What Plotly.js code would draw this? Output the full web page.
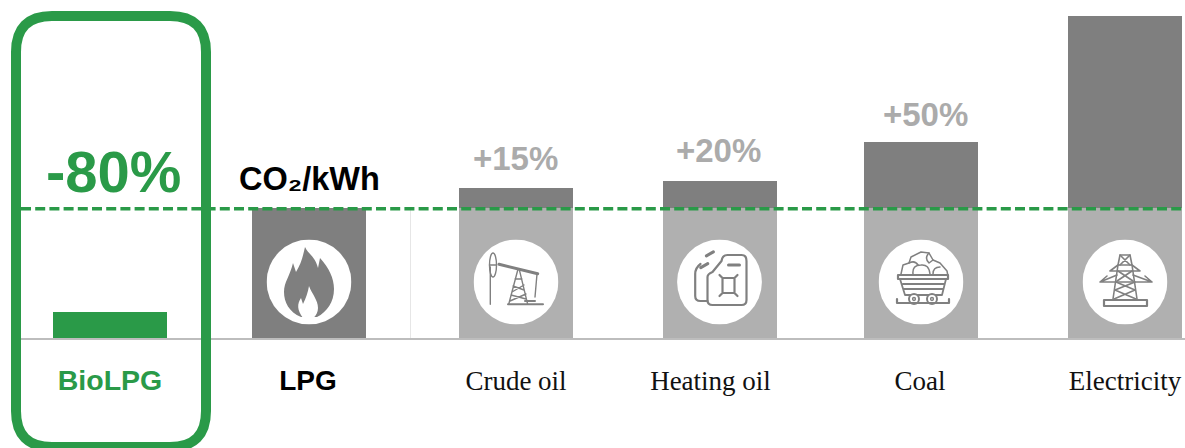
<!DOCTYPE html>
<html>
<head>
<meta charset="utf-8">
<script src="https://cdn.plot.ly/plotly-3.0.1.min.js"></script>
<style>html,body{margin:0;padding:0;background:#fff}#chart{width:1185px;height:448px}</style>
</head>
<body>
<div id="chart"></div>
<script>
// CO2 per kWh by energy source, indexed to LPG = 100
const categories = ['BioLPG', 'LPG', 'Crude oil', 'Heating oil', 'Coal', 'Electricity'];
const co2Index = [20, 100, 115, 120, 150, 247];
const lpgLevel = 100;
const changeLabels = ['+15%', '+20%', '+50%'];
const changeSources = ['Crude oil', 'Heating oil', 'Coal'];

// Layout constants
const W = 1185, H = 448, baseY = 338;
const barCenters = [110, 309, 516, 719.5, 921, 1125];
const labelCenters = [110, 308, 516, 710.5, 920, 1125];
const barWidth = 114;
const GREEN = '#2a9a48', DARK = '#7f7f7f', LIGHT = '#b0b0b0', SOFT = '#ababab';
const pxPerUnit = 1.305;

const paperY = py => (H - py) / H;
const paperX = px => px / W;

// Split each bar at the LPG level: the share above it is drawn darker
const lowerPart = co2Index.map(v => Math.min(v, lpgLevel));
const upperPart = co2Index.map(v => Math.max(v - lpgLevel, 0));
const lowerColors = categories.map(c => c === 'BioLPG' ? GREEN : c === 'LPG' ? DARK : LIGHT);

const traces = [
  {type: 'bar', x: barCenters, y: lowerPart, width: barWidth, marker: {color: lowerColors}, hoverinfo: 'skip'},
  {type: 'bar', x: barCenters, y: upperPart, width: barWidth, marker: {color: DARK}, hoverinfo: 'skip'},
  {type: 'scatter', mode: 'lines', x: [21, W], y: [lpgLevel - 1, lpgLevel - 1],
   line: {color: GREEN, width: 3.5, dash: '10px,4.2px'}, hoverinfo: 'skip'}
];

// Icon drawings, in coordinates centred on a white disc of radius 42.5
const S = 'fill="none" stroke="#808080" stroke-linejoin="round" stroke-linecap="round"';
const iconBodies = {
  'LPG': `<path fill="${DARK}" d="M-8 35C-20 30-25 20-25 10C-25 0-19-6-16-19L-13-10C-8-18-6-26-4-35C-1-28 6-26 9-14L11-24C20-14 25-4 25 7C25 20 18 30 8 35Z"/>
          <path fill="#fff" d="M-6 36C-12 28-12 22-8 16L-6 22C-3 16-1 10 0 4C3 12 9 18 9 26C9 30 7 34 4 36Z"/>`,
  'Crude oil': `<g ${S} stroke-width="1.4">
          <path d="M-25.7-15V22.3"/><ellipse cx="-23" cy="-17" rx="3.5" ry="12"/><path d="M-26.5-17H-19.5"/>
          <path stroke-width="3" d="M-17-17.7L21.7-8.3"/><path d="M21-8L19 15"/>
          <path d="M1.7-11.7L-7.3 22.3M3.5-11.7L11.7 22.3M-1-3L6-3M-3 4L8 8M8 3L-4 10M-5 13L10 17M10 12L-6 19"/>
          <path stroke-width="2" d="M-8 22.3H27M9 19H19"/></g>`,
  'Heating oil': `<g ${S} stroke-width="2.2">
          <path d="M-12 19H-19Q-24.3 19-24.3 14V-8Q-24.3-14-19-18"/>
          <path d="M-7-10L2-21Q3-27 8-27H22Q27-27 27-21V18Q27 23 22 23H-7Q-12 23-12 18V-5Q-12-8-7-10Z"/>
          <path stroke-width="3" d="M-22-24L-15-20M-9-25L-2-21" transform="rotate(-60 -12 -22)"/>
          <path d="M3-4H15V11H3ZM0-7L3-4M18-7L15-4M0 14L3 11M18 14L15 11"/>
          <path stroke-width="3" d="M9-17H20"/></g>`,
  'Coal': `<g ${S} stroke-width="1.5">
          <path d="M-20-8L-18-17L-12-19L-10-25L0-30L8-29L12-22L19-19L26-11L27-6"/>
          <path d="M-12-19Q-6-22-3-17M8-29Q3-24 8-19L12-22M-8-8Q-9-17 0-17Q8-18 9-8M12-8Q12-15 19-15"/>
          <path stroke-width="2.2" d="M-23-7H27V-3H-23Z"/>
          <path d="M-21-3L-16 13H21L25-3M-18 2H23M-17 7H22" stroke-width="1.8"/>
          <circle cx="-7" cy="17" r="5" fill="#fff" stroke-width="2"/><circle cx="11" cy="17" r="5" fill="#fff" stroke-width="2"/>
          <circle cx="-7" cy="17" r="1.4"/><circle cx="11" cy="17" r="1.4"/>
          <path stroke-width="2.2" d="M-24 21H28M-24 17V21M28 17V21"/></g>`,
  'Electricity': `<g ${S} stroke-width="1.6">
          <path d="M-5-27H5L7-17H-7ZM-7-17L-12 17M7-17L12 17"/>
          <path d="M-7-17L-15-11H15L7-17M-5-27L5-17M5-27L-5-17"/>
          <path d="M-8-7L-25 0H27L8-7M-25 0L-18-6M27 0L20-6"/>
          <path d="M-9 0L10 8L-11 17M10 0L-10 8L11 17M-7-11L8-1M7-11L-8-1"/>
          <path stroke-width="2.2" d="M-21 18H22V24H-21Z"/></g>`
};
const iconUri = body => 'data:image/svg+xml,' + encodeURIComponent(
  `<svg xmlns="http://www.w3.org/2000/svg" width="85" height="85" viewBox="-42.5 -42.5 85 85"><circle r="42.4" fill="#fff"/>${body}</svg>`);

const images = categories.filter(c => iconBodies[c]).map(c => ({
  source: iconUri(iconBodies[c]), layer: 'above',
  xref: 'x', x: barCenters[categories.indexOf(c)], xanchor: 'center', sizex: 85,
  yref: 'paper', y: paperY(282), yanchor: 'middle', sizey: 85 / H, sizing: 'stretch'
}));

// Tick labels carry their own font, since the first two differ from the rest
const tickText = categories.map((c, i) => {
  if (i === 0) return `<span style="font-family:'Liberation Sans';font-weight:bold;font-size:28.5px;fill:${GREEN}">${c}</span>`;
  if (i === 1) return `<span style="font-family:'Liberation Sans';font-weight:bold;font-size:28px;fill:#000">${c}</span>`;
  return `<span style="fill:#111">${c}</span>`;
});

const changeShift = {'Crude oil': [0, 2], 'Heating oil': [0, 3], 'Coal': [5, 0]};
const annotations = changeLabels.map((t, i) => {
  const k = categories.indexOf(changeSources[i]);
  return {
    text: t, x: barCenters[k], y: co2Index[k], xref: 'x', yref: 'y',
    xanchor: 'center', yanchor: 'bottom', showarrow: false,
    xshift: changeShift[changeSources[i]][0] - 1, yshift: 7 + changeShift[changeSources[i]][1],
    font: {family: 'Liberation Sans', size: 33, color: SOFT, weight: 700}
  };
});
annotations.push({
  text: '-80%', x: barCenters[0] + 3, y: paperY(171), xref: 'x', yref: 'paper',
  xanchor: 'center', yanchor: 'middle', showarrow: false,
  font: {family: 'Liberation Sans', size: 58, color: GREEN, weight: 700}
});
annotations.push({
  text: 'CO\u2082/kWh', x: barCenters[1], y: paperY(179), xref: 'x', yref: 'paper',
  xanchor: 'center', yanchor: 'middle', showarrow: false,
  font: {family: 'Liberation Sans', size: 32.5, color: '#000', weight: 700}
});

// Rounded frame around the BioLPG column
const frame = {L: 16, R: 206, T: 16, B: 447, r: 36};
const fx = v => paperX(v).toFixed(5), fy = v => paperY(v).toFixed(5);
const framePath = [
  `M ${fx(frame.L + frame.r)} ${fy(frame.T)}`,
  `L ${fx(frame.R - frame.r)} ${fy(frame.T)}`,
  `Q ${fx(frame.R)} ${fy(frame.T)} ${fx(frame.R)} ${fy(frame.T + frame.r)}`,
  `L ${fx(frame.R)} ${fy(frame.B - frame.r)}`,
  `Q ${fx(frame.R)} ${fy(frame.B)} ${fx(frame.R - frame.r)} ${fy(frame.B)}`,
  `L ${fx(frame.L + frame.r)} ${fy(frame.B)}`,
  `Q ${fx(frame.L)} ${fy(frame.B)} ${fx(frame.L)} ${fy(frame.B - frame.r)}`,
  `L ${fx(frame.L)} ${fy(frame.T + frame.r)}`,
  `Q ${fx(frame.L)} ${fy(frame.T)} ${fx(frame.L + frame.r)} ${fy(frame.T)} Z`
].join(' ');

const layout = {
  width: W, height: H,
  margin: {l: 0, r: 0, t: 0, b: 0},
  paper_bgcolor: '#fff', plot_bgcolor: 'rgba(0,0,0,0)',
  barmode: 'stack', showlegend: false,
  xaxis: {
    domain: [21 / W, 1], range: [21, W], fixedrange: true,
    showgrid: false, zeroline: false, showline: true, linecolor: '#bdbdbd', linewidth: 2,
    tickmode: 'array', tickvals: labelCenters, ticktext: tickText, ticks: '',
    ticklabelstandoff: 18,
    tickfont: {family: 'Liberation Serif', size: 27, color: '#111'}
  },
  yaxis: {
    domain: [(H - baseY) / H, 1], range: [0, baseY / pxPerUnit], fixedrange: true,
    visible: false
  },
  shapes: [
    {type: 'line', layer: 'below', xref: 'x', yref: 'y', x0: 410.5, x1: 410.5, y0: 0, y1: lpgLevel - 1,
     line: {color: '#e6e6e6', width: 1}},
    {type: 'path', layer: 'above', xref: 'paper', yref: 'paper', path: framePath,
     line: {color: GREEN, width: 10}, fillcolor: 'rgba(0,0,0,0)'}
  ],
  annotations, images
};

Plotly.newPlot('chart', traces, layout, {displayModeBar: false, staticPlot: true});
</script>
</body>
</html>
